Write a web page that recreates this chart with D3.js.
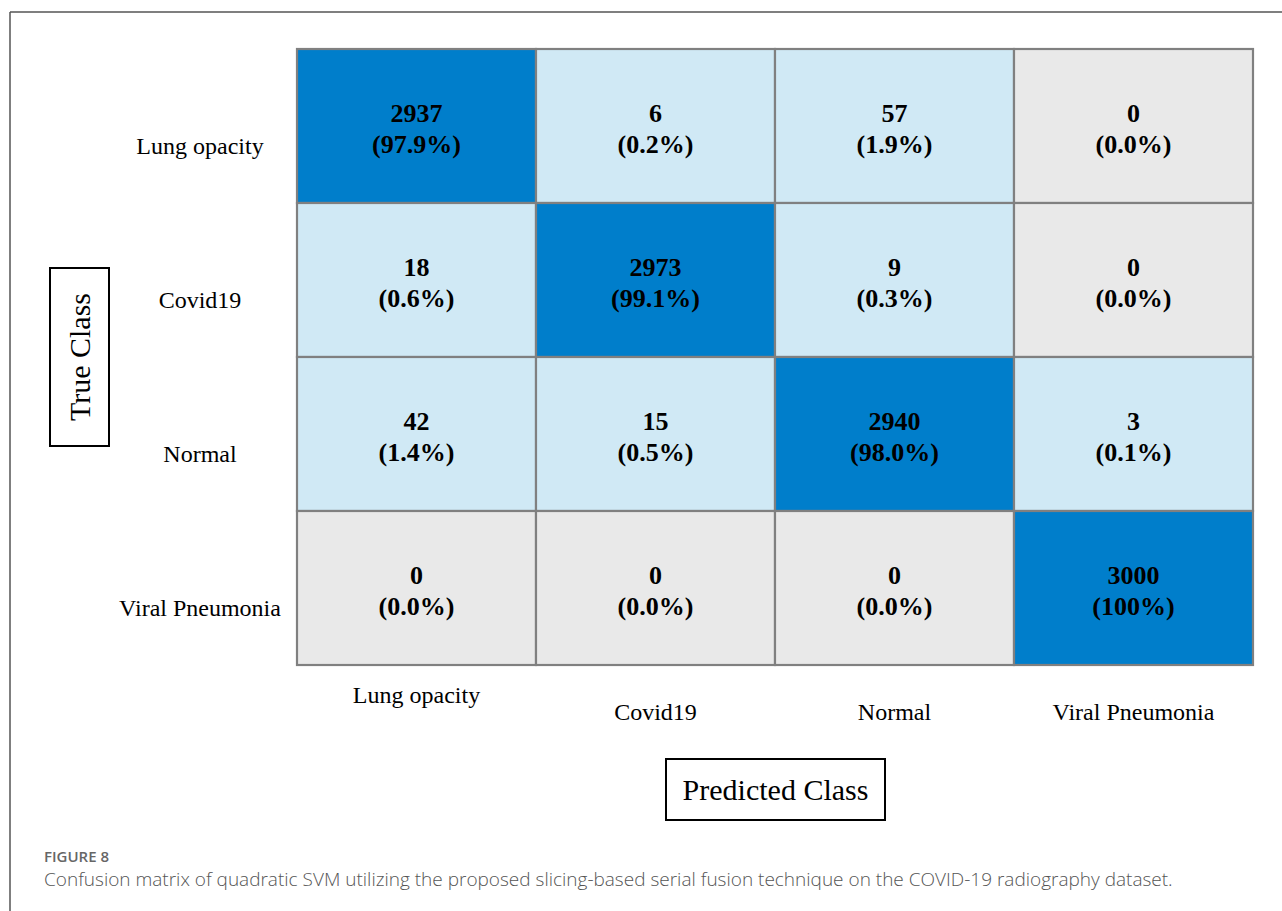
<!DOCTYPE html>
<html>
<head>
<meta charset="utf-8">
<script src="https://cdn.jsdelivr.net/npm/d3@7"></script>
<style>
  body { margin: 0; background: #fff; }
  svg { display: block; }
</style>
</head>
<body>
<div id="matrix"></div>
<script>
// Class names, rows = true class, columns = predicted class
var classes = ["Lung opacity", "Covid19", "Normal", "Viral Pneumonia"];

// counts per true class row
var lungRow = [2937, 6, 57, 0];
var covidRow = [18, 2973, 9, 0];
var normalRow = [42, 15, 2940, 3];
var viralRow = [0, 0, 0, 3000];

// percentage labels as printed in the cells
var lungPct = ["97.9%", "0.2%", "1.9%", "0.0%"];
var covidPct = ["0.6%", "99.1%", "0.3%", "0.0%"];
var normalPct = ["1.4%", "0.5%", "98.0%", "0.1%"];
var viralPct = ["0.0%", "0.0%", "0.0%", "100%"];

var counts = [lungRow, covidRow, normalRow, viralRow];
var pcts = [lungPct, covidPct, normalPct, viralPct];

var captionTitle = "FIGURE 8";
var captionText = "Confusion matrix of quadratic SVM utilizing the proposed slicing-based serial fusion technique on the COVID-19 radiography dataset.";

var W = 1282, H = 911;
var margin = { top: 49, left: 297 },
    width = 956,
    height = 616;

var svg = d3.select("#matrix")
  .append("svg")
  .attr("width", W)
  .attr("height", H);

// outer frame (top and left lines only)
svg.append("line").attr("x1", 10).attr("x2", W).attr("y1", 12).attr("y2", 12)
  .attr("stroke", "#555").attr("stroke-width", 1.5);
svg.append("line").attr("x1", 10).attr("x2", 10).attr("y1", 12).attr("y2", H)
  .attr("stroke", "#555").attr("stroke-width", 1.5);

var g = svg.append("g")
  .attr("transform", "translate(" + margin.left + "," + margin.top + ")");

var x = d3.scaleBand().domain(classes).range([0, width]);
var y = d3.scaleBand().domain(classes).range([0, height]);

// flatten the cells
var cells = [];
counts.forEach(function (row, i) {
  row.forEach(function (v, j) {
    cells.push({ t: classes[i], p: classes[j], v: v, pct: pcts[i][j], diag: i === j });
  });
});

function cellColor(d) {
  if (d.diag) return "#007ecb";
  if (d.v === 0) return "#e9e9e9";
  return "#d0e9f5";
}

var cell = g.selectAll(".cell")
  .data(cells)
  .enter()
  .append("g")
  .attr("class", "cell")
  .attr("transform", function (d) { return "translate(" + x(d.p) + "," + y(d.t) + ")"; });

cell.append("rect")
  .attr("width", x.bandwidth())
  .attr("height", y.bandwidth())
  .attr("fill", cellColor)
  .attr("stroke", "#808080")
  .attr("stroke-width", 2.2);

cell.append("text")
  .attr("x", x.bandwidth() / 2)
  .attr("y", y.bandwidth() / 2 - 4)
  .attr("text-anchor", "middle")
  .style("font-family", "'Liberation Serif', 'Times New Roman', serif")
  .style("font-weight", "bold")
  .style("font-size", "26px")
  .attr("fill", "#000")
  .text(function (d) { return d.v; });

cell.append("text")
  .attr("x", x.bandwidth() / 2)
  .attr("y", y.bandwidth() / 2 + 27)
  .attr("text-anchor", "middle")
  .style("font-family", "'Liberation Serif', 'Times New Roman', serif")
  .style("font-weight", "bold")
  .style("font-size", "26px")
  .attr("fill", "#000")
  .text(function (d) { return "(" + d.pct + ")"; });

// row labels (true class)
g.selectAll(".rowLabel")
  .data(classes)
  .enter()
  .append("text")
  .attr("class", "rowLabel")
  .attr("x", -97)
  .attr("y", function (d) { return y(d) + y.bandwidth() / 2 + 28; })
  .attr("text-anchor", "middle")
  .style("font-family", "'Liberation Serif', 'Times New Roman', serif")
  .style("font-size", "24px")
  .text(function (d) { return d; });

// column labels (predicted class)
g.selectAll(".colLabel")
  .data(classes)
  .enter()
  .append("text")
  .attr("class", "colLabel")
  .attr("x", function (d) { return x(d) + x.bandwidth() / 2; })
  .attr("y", function (d, i) { return height + (i === 0 ? 38 : 55); })
  .attr("text-anchor", "middle")
  .style("font-family", "'Liberation Serif', 'Times New Roman', serif")
  .style("font-size", "24px")
  .text(function (d) { return d; });

// axis title boxes
svg.append("rect")
  .attr("x", 50).attr("y", 268).attr("width", 59).attr("height", 178)
  .attr("fill", "none").attr("stroke", "#000").attr("stroke-width", 2);
svg.append("text")
  .attr("transform", "translate(90,357) rotate(-90)")
  .attr("text-anchor", "middle")
  .style("font-family", "'Liberation Serif', 'Times New Roman', serif")
  .style("font-size", "30px")
  .text("True Class");

svg.append("rect")
  .attr("x", 666).attr("y", 759).attr("width", 219).attr("height", 61)
  .attr("fill", "none").attr("stroke", "#000").attr("stroke-width", 2);
svg.append("text")
  .attr("x", 775.5).attr("y", 800)
  .attr("text-anchor", "middle")
  .style("font-family", "'Liberation Serif', 'Times New Roman', serif")
  .style("font-size", "30px")
  .text("Predicted Class");

// caption
svg.append("text")
  .attr("x", 44).attr("y", 862)
  .style("font-family", "'Open Sans', 'Noto Sans', sans-serif")
  .style("font-weight", "600")
  .style("font-size", "15px")
  .attr("fill", "#666")
  .text(captionTitle);
svg.append("text")
  .attr("x", 44).attr("y", 886)
  .style("font-family", "'Open Sans', 'Noto Sans', sans-serif")
  .style("font-weight", "300")
  .style("font-size", "19px")
  .attr("fill", "#555")
  .text(captionText);
</script>
</body>
</html>
